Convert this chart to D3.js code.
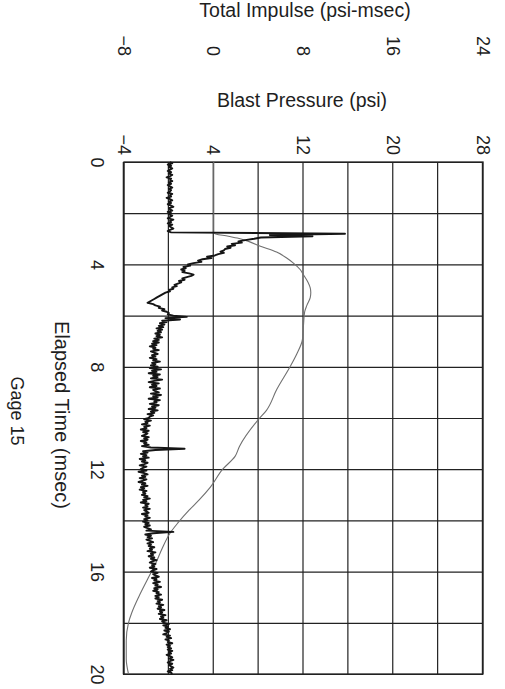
<!DOCTYPE html>
<html>
<head>
<meta charset="utf-8">
<script src="https://cdn.jsdelivr.net/npm/d3@7"></script>
<style>
  body { margin: 0; background: #fff; }
  text { font-family: "Liberation Sans", Arial, sans-serif; fill: #1e1e1e; }
</style>
</head>
<body>
<div id="chart"></div>
<script>
// tick labels
const timeTicks = [0, 4, 8, 12, 16, 20];
const pressureTicks = [-4, 4, 12, 20, 28];
const impulseTicks = [-8, 0, 8, 16, 24];
// grid lines
const timeGrid = [0, 2, 4, 6, 8, 10, 12, 14, 16, 18, 20];
const pressureGrid = [-4, 0, 4, 8, 12, 16, 20, 24, 28];

// blast pressure (psi), one reading every 0.05 msec from t = 0, one row per msec
const sampleStep = 0.05;
const pressure = [
  0.1, 0.3, -0.1, 0.2, 0.0, 0.3, 0.1, -0.1, 0.2, 0.0, 0.3, 0.1, -0.2, 0.2, 0.1, 0.3, 0.0, 0.2, -0.1, 0.1,
  0.3, 0.0, 0.2, 0.1, -0.1, 0.3, 0.1, 0.2, -0.2, 0.1, 0.3, 0.0, 0.2, -0.1, 0.2, 0.4, 0.0, 0.1, 0.3, -0.1,
  0.2, 0.0, 0.3, 0.1, -0.1, 0.4, 0.1, 0.2, -0.1, 0.3, 0.0, 0.2, 0.4, 0.1, -0.1, 0.2, 15.7, 9.0, 12.8, 8.2,
  7.6, 6.8, 6.2, 6.5, 5.6, 5.9, 5.2, 5.5, 5.0, 4.9, 4.6, 4.9, 4.4, 4.1, 3.4, 3.8, 3.0, 2.6, 2.9, 2.2,
  1.7, 1.9, 1.3, 1.5, 1.1, 1.4, 1.2, 1.8, 2.2, 2.0, 1.6, 1.2, 1.4, 0.9, 1.1, 0.8, 0.5, 0.7, 0.3, 0.4,
  0.0, 0.1, -0.3, -0.5, -0.7, -0.9, -1.1, -1.3, -1.5, -1.7, -1.9, -1.4, -1.2, -0.8, -0.9, -0.4, -0.6, -0.2, 0.0, -0.1,
  0.4, 1.6, -0.3, 1.0, -0.6, -0.2, -0.8, -0.4, -0.9, -0.5, -1.1, -0.6, -1.0, -0.7, -1.2, -0.8, -1.1, -0.6, -1.3, -0.9,
  -1.4, -0.9, -1.5, -1.1, -1.7, -1.2, -1.4, -0.9, -1.6, -1.3, -1.0, -1.5, -1.2, -1.7, -1.1, -1.4, -0.8, -1.5, -1.2, -1.6,
  -1.0, -1.7, -0.7, -1.5, -1.1, -1.8, -0.8, -1.4, -1.0, -1.6, -0.6, -1.3, -1.8, -0.9, -1.5, -1.1, -1.7, -0.8, -1.4, -1.2,
  -0.9, -1.6, -0.7, -1.4, -1.0, -1.8, -0.8, -1.3, -1.1, -1.7, -0.9, -1.5, -1.2, -1.8, -1.0, -1.6, -1.3, -1.9, -1.4, -1.7,
  -1.8, -2.2, -1.6, -2.1, -1.9, -2.4, -1.7, -2.2, -2.0, -2.5, -1.8, -2.3, -1.9, -2.1, -2.4, -1.8, -2.2, -1.9, -2.5, -2.0,
  -2.2, -1.8, -2.4, -1.6, 1.4, -1.2, -2.3, -1.9, -2.5, -2.0, -2.3, -1.8, -2.6, -2.1, -2.4, -1.9, -2.2, -2.6, -2.0, -2.3,
  -2.5, -2.0, -2.7, -2.2, -1.9, -2.4, -2.1, -2.6, -2.0, -2.3, -2.7, -2.1, -2.4, -1.9, -2.5, -2.2, -2.6, -2.0, -2.3, -2.1,
  -2.4, -1.9, -2.2, -1.7, -2.3, -2.0, -2.5, -1.8, -2.1, -1.9, -2.3, -1.7, -2.2, -2.0, -1.8, -2.4, -1.9, -2.1, -1.7, -2.2,
  -1.9, -2.3, -1.8, -2.1, -1.7, -2.2, -1.9, -1.6, -2.0, 0.4, -1.4, -2.1, -1.6, -1.9, -1.5, -2.0, -1.7, -1.4, -1.9, -1.6,
  -1.8, -1.3, -1.7, -1.5, -1.9, -1.2, -1.6, -1.4, -1.8, -1.3, -1.6, -1.1, -1.5, -1.7, -1.2, -1.5, -1.3, -1.7, -1.1, -1.4,
  -1.6, -1.0, -1.4, -1.2, -0.9, -1.5, -1.1, -1.3, -0.8, -1.4, -1.0, -1.2, -0.7, -1.3, -1.0, -1.4, -0.9, -1.1, -0.7, -1.2,
  -0.9, -1.2, -0.6, -1.0, -0.8, -1.1, -0.5, -0.9, -0.7, -1.0, -0.4, -0.8, -0.6, -0.9, -0.3, -0.7, -0.5, -0.8, -0.2, -0.6,
  -0.4, 0.0, -0.5, -0.1, -0.3, 0.1, -0.4, 0.0, -0.2, -0.5, 0.1, -0.2, 0.2, -0.3, 0.0, -0.1, 0.3, -0.2, 0.1, -0.1,
  0.2, -0.1, 0.3, 0.0, 0.2, -0.2, 0.1, 0.3, 0.0, 0.4, 0.1, -0.1, 0.3, 0.0, 0.2, 0.4, 0.1, 0.3, -0.1, 0.2,
  0.3
];

// total impulse (psi-msec)
const impulseTime = [0, 2.78, 2.9, 2.97, 3.1, 3.28, 3.52, 3.75, 3.95, 4.2,
  4.41, 4.7, 4.92, 5.1, 5.3, 5.6, 5.86, 6.37, 6.95, 7.5,
  8.0, 8.9, 9.7, 10.1, 11.1, 11.5, 12.0, 12.7, 13.2, 13.6,
  14.1, 14.5, 15.1, 15.7, 16.3, 17.0, 17.6, 18.0, 18.7, 19.4, 20.0];
const impulseValue = [0, 0, 1.3, 2.1, 3.1, 4.1, 5.6, 6.5, 7.1, 7.7,
  8.0, 8.4, 8.6, 8.65, 8.6, 8.3, 8.1, 8.0, 7.9, 7.4,
  6.8, 5.6, 4.7, 3.9, 2.3, 1.9, 0.8, -0.3, -1.3, -2.2,
  -3.2, -3.9, -4.6, -5.2, -5.9, -6.7, -7.3, -7.6, -7.8, -7.8, -7.6];

const W = 505, H = 689;

const svg = d3.select("#chart")
  .append("svg")
  .attr("width", W)
  .attr("height", H);

// the page is printed sideways: draw the chart landscape, then turn it
const g = svg.append("g")
  .attr("transform", "translate(" + W + ",0) rotate(90)");

const x = d3.scaleLinear().domain([0, 20]).range([162, 674]);
const y = d3.scaleLinear().domain([-4, 28]).range([381, 22]);
const yImp = d3.scaleLinear().domain([-8, 24]).range([381, 22]);

// grid
const grid = g.append("g").attr("class", "grid");
grid.append("g")
  .attr("transform", "translate(0," + y(-4) + ")")
  .call(d3.axisBottom(x).tickValues(timeGrid).tickSize(-(y(-4) - y(28))).tickFormat(""));
grid.append("g")
  .attr("transform", "translate(" + x(0) + ",0)")
  .call(d3.axisLeft(y).tickValues(pressureGrid).tickSize(-(x(20) - x(0))).tickFormat(""));
grid.selectAll("line, path").attr("stroke", "#222").attr("stroke-width", 1.2);

g.append("rect")
  .attr("x", x(0)).attr("y", y(28))
  .attr("width", x(20) - x(0)).attr("height", y(-4) - y(28))
  .attr("fill", "none").attr("stroke", "#222").attr("stroke-width", 1.3);

// tick labels
const timeAxis = g.append("g")
  .attr("transform", "translate(0," + y(-4) + ")")
  .call(d3.axisBottom(x).tickValues(timeTicks).tickSize(0).tickPadding(20));
const pAxis = g.append("g")
  .attr("transform", "translate(" + x(0) + ",0)")
  .call(d3.axisLeft(y).tickValues(pressureTicks).tickSize(0).tickPadding(7));
const iAxis = g.append("g")
  .attr("transform", "translate(64,0)")
  .call(d3.axisLeft(yImp).tickValues(impulseTicks).tickSize(0).tickPadding(8));

[timeAxis, pAxis, iAxis].forEach((a) => {
  a.select(".domain").remove();
  a.selectAll("text")
    .style("font-size", "18px")
    .style("font-family", "'Liberation Sans', Arial, sans-serif")
    .attr("fill", "#1e1e1e");
});

// impulse trace
const impulse = impulseTime.map((t, i) => ({ t: t, v: impulseValue[i] }));
const impLine = d3.line()
  .curve(d3.curveMonotoneX)
  .x((d) => x(d.t))
  .y((d) => yImp(d.v));

g.append("path")
  .datum(impulse)
  .attr("d", impLine)
  .attr("fill", "none")
  .attr("stroke", "#707070")
  .attr("stroke-width", 1.1);

// pressure trace
const pLine = d3.line()
  .x((d, i) => x(i * sampleStep))
  .y((d) => y(d));

g.append("path")
  .datum(pressure)
  .attr("d", pLine)
  .attr("fill", "none")
  .attr("stroke", "#151515")
  .attr("stroke-width", 1.9)
  .attr("stroke-linejoin", "round");

// axis titles
g.append("text")
  .attr("x", (x(0) + x(20)) / 2 - 3)
  .attr("y", 450)
  .attr("text-anchor", "middle")
  .style("font-size", "20px")
  .text("Elapsed Time (msec)");

g.append("text")
  .attr("x", (x(0) + x(20)) / 2 - 7)
  .attr("y", 494)
  .attr("text-anchor", "middle")
  .style("font-size", "18px")
  .text("Gage 15");

svg.append("text")
  .attr("x", 305)
  .attr("y", 17)
  .attr("text-anchor", "middle")
  .style("font-size", "19.5px")
  .text("Total Impulse (psi-msec)");

svg.append("text")
  .attr("x", 302)
  .attr("y", 107)
  .attr("text-anchor", "middle")
  .style("font-size", "19.5px")
  .text("Blast Pressure (psi)");
</script>
</body>
</html>
